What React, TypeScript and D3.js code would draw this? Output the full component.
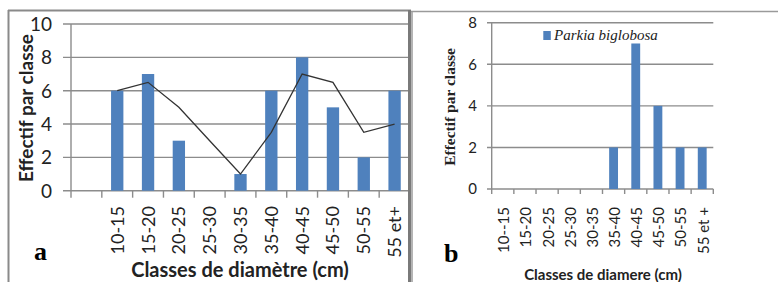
import React from "react";
import * as d3 from "d3";

// panel a - diameter classes (first class is an empty slot in the original)
const classesA = ["", "10-15", "15-20", "20-25", "25-30", "30-35", "35-40", "40-45", "45-50", "50-55", "55 et+"];
const countsA = [0, 6, 7, 3, 0, 1, 6, 8, 5, 2, 6];
const trendA = [null, 6, 6.5, 5, 3, 1, 3.5, 7, 6.5, 3.5, 4];
const ticksA = [0, 2, 4, 6, 8, 10];

// panel b - Parkia biglobosa
const classesB = ["10--15", "15-20", "20-25", "25-30", "30-35", "35-40", "40-45", "45-50", "50-55", "55 et +"];
const countsB = [0, 0, 0, 0, 0, 2, 7, 4, 2, 2];
const ticksB = [0, 2, 4, 6, 8];

const BLUE = "#4f81bd";
const GRID = "#8c8c8c";
const SANS = "Lato, 'Open Sans', sans-serif";
const SERIF = "'Liberation Serif', 'DejaVu Serif', serif";

function PanelA() {
  const x = d3.scaleBand<string>().domain(classesA).range([71, 410]);
  const y = d3.scaleLinear().domain([0, 10]).range([190.7, 24]);
  const bw = x.bandwidth() * 0.4;
  const line = d3
    .line<[string, number | null]>()
    .defined((d) => d[1] !== null)
    .x((d) => (x(d[0]) as number) + x.bandwidth() / 2)
    .y((d) => y(d[1] as number));
  const pts = classesA.map((c, i) => [c, trendA[i]] as [string, number | null]);

  return (
    <g>
      <defs>
        <clipPath id="clipA">
          <rect x={0} y={0} width={408} height={282} />
        </clipPath>
      </defs>
      <g clipPath="url(#clipA)">
        {ticksA.map((t) => (
          <line key={t} x1={63} x2={410} y1={y(t)} y2={y(t)} stroke={GRID} strokeWidth={1.4} />
        ))}
        <line x1={71} x2={71} y1={y(10)} y2={y(0)} stroke={GRID} strokeWidth={1.4} />
        {classesA.map((c) => (
          <line key={"t" + c} x1={x(c) as number} x2={x(c) as number} y1={y(0)} y2={y(0) + 7} stroke={GRID} strokeWidth={1.4} />
        ))}
        {classesA.map((c, i) =>
          countsA[i] > 0 ? (
            <rect
              key={"b" + c}
              x={(x(c) as number) + (x.bandwidth() - bw) / 2}
              y={y(countsA[i])}
              width={bw}
              height={y(0) - y(countsA[i])}
              fill={BLUE}
            />
          ) : null
        )}
        <path d={line(pts) || ""} fill="none" stroke="#333" strokeWidth={1.3} />
      </g>
      {ticksA.map((t) => (
        <text key={"l" + t} x={52} y={y(t)} dy="0.36em" textAnchor="end" fontFamily={SANS} fontSize={19} fill="#222">
          {t}
        </text>
      ))}
      {classesA.map((c) => (
        <text
          key={"x" + c}
          transform={`translate(${(x(c) as number) + x.bandwidth() / 2},206) rotate(-90)`}
          dy="0.36em"
          textAnchor="end"
          fontFamily={SANS}
          fontSize={18}
          fill="#222"
        >
          {c}
        </text>
      ))}
      <text transform="translate(26,108) rotate(-90)" dy="0.36em" textAnchor="middle" fontFamily={SANS} fontWeight="bold" fontSize={19} fill="#222">
        Effectif par classe
      </text>
      <text x={240} y={277} textAnchor="middle" fontFamily={SANS} fontWeight="bold" fontSize={20} fill="#222">
        Classes de diamètre (cm)
      </text>
      <text x={34} y={260} fontFamily={SERIF} fontWeight="bold" fontSize={26} fill="#000">
        a
      </text>
    </g>
  );
}

function PanelB() {
  const x = d3.scaleBand<string>().domain(classesB).range([491.7, 713.3]);
  const y = d3.scaleLinear().domain([0, 8]).range([189, 22.7]);
  const bw = x.bandwidth() * 0.4;

  return (
    <g>
      {ticksB.map((t) => (
        <line key={t} x1={487} x2={713.3} y1={y(t)} y2={y(t)} stroke={GRID} strokeWidth={1.4} />
      ))}
      <line x1={491.7} x2={491.7} y1={y(8)} y2={y(0)} stroke={GRID} strokeWidth={1.4} />
      {classesB.concat([""]).map((c, i) => {
        const xx = 491.7 + i * x.step();
        return <line key={"t" + i} x1={xx} x2={xx} y1={y(0)} y2={y(0) + 5} stroke={GRID} strokeWidth={1.4} />;
      })}
      {classesB.map((c, i) =>
        countsB[i] > 0 ? (
          <rect
            key={"b" + c}
            x={(x(c) as number) + (x.bandwidth() - bw) / 2}
            y={y(countsB[i])}
            width={bw}
            height={y(0) - y(countsB[i])}
            fill={BLUE}
          />
        ) : null
      )}
      {ticksB.map((t) => (
        <text key={"l" + t} x={477} y={y(t)} dy="0.36em" textAnchor="end" fontFamily={SANS} fontSize={15} fill="#222">
          {t}
        </text>
      ))}
      {classesB.map((c) => (
        <text
          key={"x" + c}
          transform={`translate(${(x(c) as number) + x.bandwidth() / 2 + 1},207) rotate(-90)`}
          dy="0.36em"
          textAnchor="end"
          fontFamily={SANS}
          fontSize={15}
          fill="#222"
        >
          {c}
        </text>
      ))}
      <text transform="translate(449,107) rotate(-90)" dy="0.36em" textAnchor="middle" fontFamily={SERIF} fontWeight="bold" fontSize={15.5} fill="#222">
        Effectif par classe
      </text>
      <rect x={543.3} y={31} width={7.5} height={9} fill={BLUE} />
      <text x={554} y={40} fontFamily={SERIF} fontStyle="italic" fontSize={15} fill="#222">
        Parkia biglobosa
      </text>
      <text x={603} y={280} textAnchor="middle" fontFamily={SANS} fontWeight="bold" fontSize={15} fill="#222">
        Classes de diamere (cm)
      </text>
      <text x={444} y={262} fontFamily={SERIF} fontWeight="bold" fontSize={26} fill="#000">
        b
      </text>
    </g>
  );
}

export default function App() {
  return (
    <svg width={778} height={282} style={{ position: "absolute", left: 0, top: 0, background: "#fff" }}>
      <rect width={778} height={282} fill="#fff" />
      {/* frames */}
      <line x1={8.5} x2={8.5} y1={10} y2={282} stroke="#8a8a8a" strokeWidth={2} />
      <line x1={8} x2={411} y1={10.5} y2={10.5} stroke="#8a8a8a" strokeWidth={2} />
      <line x1={409.5} x2={409.5} y1={10} y2={282} stroke="#7a7a7a" strokeWidth={3} />
      <line x1={412} x2={412} y1={11} y2={282} stroke="#b4b4b4" strokeWidth={2} />
      <line x1={411} x2={778} y1={11.5} y2={11.5} stroke="#9a9a9a" strokeWidth={1.5} />
      <PanelA />
      <PanelB />
    </svg>
  );
}
